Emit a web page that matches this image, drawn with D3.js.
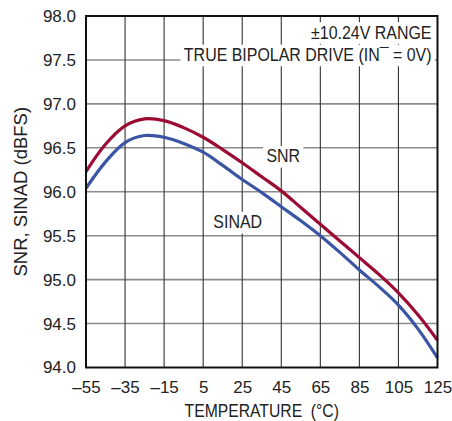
<!DOCTYPE html>
<html><head><meta charset="utf-8">
<script src="https://cdn.jsdelivr.net/npm/d3@7/dist/d3.min.js"></script>
<style>body{margin:0;background:#fff}svg{display:block}</style>
</head><body><svg id="c" width="452" height="421"></svg>
<script>
const temps = [-55,-45,-35,-25,-15,-5,5,15,25,35,45,55,65,75,85,95,105,115,125];
const snr   = [96.23,96.54,96.75,96.83,96.81,96.73,96.62,96.48,96.33,96.17,96.01,95.82,95.63,95.44,95.25,95.06,94.85,94.60,94.31];
const sinad = [96.04,96.34,96.56,96.64,96.62,96.55,96.45,96.30,96.14,95.99,95.83,95.67,95.50,95.31,95.11,94.92,94.71,94.44,94.11];
const xTicks = [-55,-35,-15,5,25,45,65,85,105,125];
const yTicks = [94.0,94.5,95.0,95.5,96.0,96.5,97.0,97.5,98.0];

const W=452,H=421, m={l:86,r:14.5,t:16,b:53.5};
const iw=W-m.l-m.r, ih=H-m.t-m.b;
const svg=d3.select('#c');
const g=svg.append('g').attr('transform',`translate(${m.l},${m.t})`);
const x=d3.scaleLinear().domain([-55,125]).range([0,iw]);
const y=d3.scaleLinear().domain([94,98]).range([ih,0]);
const font='"Liberation Sans", Arial, sans-serif';
const SX=0.84;

// grid
g.append('g').selectAll('line').data(yTicks.slice(1,-1)).join('line')
 .attr('x1',0).attr('x2',iw).attr('y1',d=>y(d)).attr('y2',d=>y(d))
 .attr('stroke','#8c8c8c').attr('stroke-width',1.6);
g.append('g').selectAll('line').data(xTicks.slice(1,-1)).join('line')
 .attr('x1',d=>x(d)).attr('x2',d=>x(d)).attr('y1',0).attr('y2',ih)
 .attr('stroke','#333').attr('stroke-width',1.1);

// labels with white background (condensed text)
function label(parent, tx, ty, anchor, txt){
  const gg=parent.append('g').attr('transform',`translate(${tx},${ty}) scale(${SX},1)`);
  const t=gg.append('text').attr('x',0).attr('y',0).attr('text-anchor',anchor)
    .attr('font-family',font).attr('font-size',19).attr('fill','#222').text(txt);
  const b=t.node().getBBox();
  gg.insert('rect','text').attr('x',b.x-4).attr('y',b.y+1).attr('width',b.width+8).attr('height',b.height).attr('fill','#fff');
  return gg;
}
const lab=g.append('g');
label(lab, iw-6, 22.5, 'end', '±10.24V RANGE');
label(lab, iw-6, 45, 'end', 'TRUE BIPOLAR DRIVE (IN¯ = 0V)');
label(lab, x(45)+2, y(96.5)+14.5, 'middle', 'SNR');
label(lab, x(25)-4.5, y(95.5)-7.5, 'middle', 'SINAD');

// curves
const line=d3.line().x((d,i)=>x(temps[i])).y(d=>y(d)).curve(d3.curveCatmullRom.alpha(0.5));
g.append('path').datum(sinad).attr('d',line).attr('fill','none').attr('stroke','#3b55a5').attr('stroke-width',3.2);
g.append('path').datum(snr).attr('d',line).attr('fill','none').attr('stroke','#9c0b33').attr('stroke-width',3.2);

// frame
g.append('rect').attr('x',0).attr('y',0).attr('width',iw).attr('height',ih)
 .attr('fill','none').attr('stroke','#111').attr('stroke-width',2);

// axes
const xa=g.append('g').attr('transform',`translate(0,${ih})`)
 .call(d3.axisBottom(x).tickValues(xTicks).tickSize(0).tickPadding(13).tickFormat(d=>d<0?'–'+Math.abs(d):d));
const ya=g.append('g').call(d3.axisLeft(y).tickValues(yTicks).tickSize(0).tickPadding(10).tickFormat(d3.format('.1f')));
[xa,ya].forEach(a=>{a.select('.domain').remove();
  a.selectAll('text').attr('font-family',font).attr('font-size',17).attr('fill','#222');});

// axis titles
svg.append('g').attr('transform',`translate(${m.l+iw/2},417) scale(0.85,1)`)
 .append('text').attr('text-anchor','middle').attr('font-family',font).attr('font-size',18.5).attr('fill','#222')
 .style('white-space','pre').text('TEMPERATURE  (°C)');
svg.append('text').attr('transform',`translate(27,${m.t+ih/2}) rotate(-90)`).attr('text-anchor','middle')
 .attr('font-family',font).attr('font-size',18.5).attr('fill','#222').text('SNR, SINAD (dBFS)');
</script></body></html>
